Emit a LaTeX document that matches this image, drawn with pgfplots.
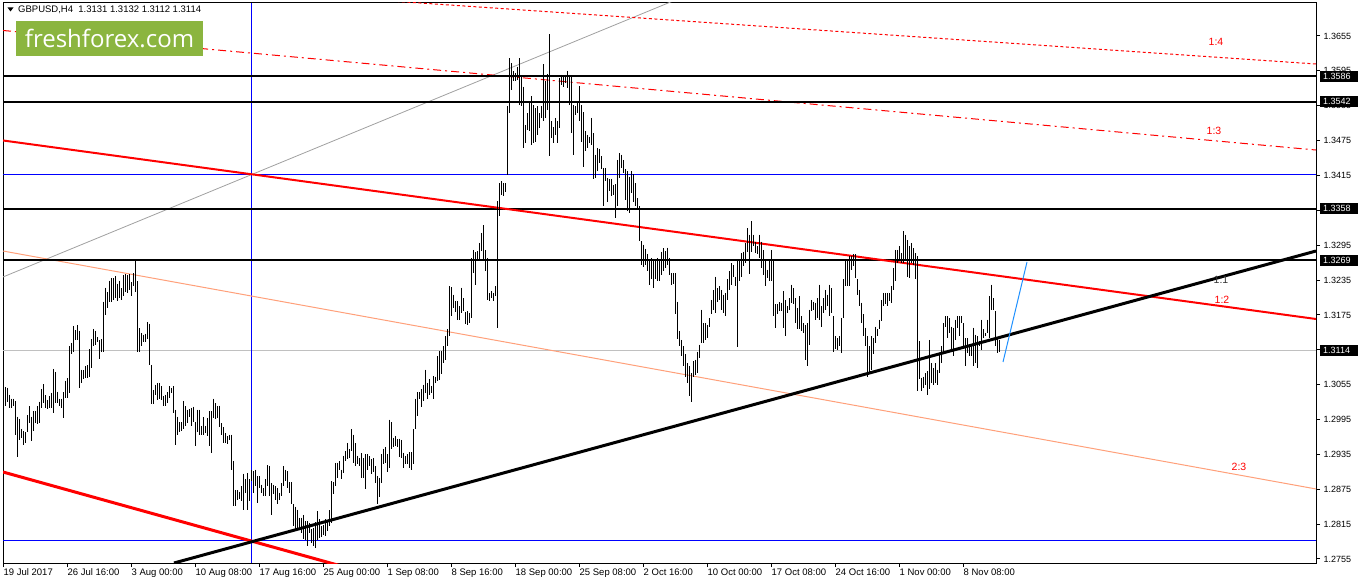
\documentclass[border=0pt]{standalone}
\usepackage{fontspec}
\setmainfont{Liberation Sans}
\newfontfamily\logofont{Open Sans}
\usepackage{pgfplots}
\usepackage{pgfplotstable}
\pgfplotsset{compat=1.18}
\definecolor{mtred}{RGB}{255,0,0}
\definecolor{salmon}{RGB}{255,160,122}
\definecolor{mtgray}{RGB}{160,160,160}
\definecolor{silver}{RGB}{192,192,192}
\definecolor{mtblue}{RGB}{0,0,255}
\definecolor{dodger}{RGB}{30,144,255}
\definecolor{logogreen}{RGB}{139,181,63}

\pgfplotstableread{
x h l
3 1.3046 1.3006
5 1.3051 1.3018
7 1.3050 1.3026
9 1.3038 1.3015
11 1.3031 1.3015
13 1.3031 1.3018
15 1.3027 1.2969
17 1.3000 1.2931
19 1.2996 1.2959
21 1.2979 1.2963
23 1.2975 1.2951
25 1.2973 1.2955
27 1.3002 1.2973
29 1.3018 1.2989
31 1.3000 1.2958
33 1.3009 1.2975
35 1.3010 1.2989
37 1.3018 1.2988
39 1.3026 1.2989
41 1.3047 1.3015
43 1.3056 1.3023
45 1.3037 1.3015
47 1.3029 1.3013
49 1.3035 1.3015
51 1.3041 1.3015
53 1.3082 1.3006
55 1.3077 1.3023
57 1.3043 1.3023
59 1.3031 1.3019
61 1.3031 1.3014
63 1.3042 1.2998
65 1.3062 1.3032
67 1.3066 1.3032
69 1.3121 1.3041
71 1.3127 1.3107
73 1.3156 1.3112
75 1.3149 1.3132
77 1.3158 1.3132
79 1.3148 1.3049
81 1.3081 1.3058
83 1.3080 1.3064
85 1.3087 1.3066
87 1.3088 1.3066
89 1.3116 1.3069
91 1.3133 1.3084
93 1.3151 1.3121
95 1.3148 1.3124
97 1.3137 1.3129
99 1.3132 1.3099
101 1.3133 1.3112
103 1.3198 1.3112
105 1.3222 1.3175
107 1.3214 1.3187
109 1.3234 1.3198
111 1.3238 1.3197
113 1.3238 1.3201
115 1.3242 1.3204
117 1.3229 1.3199
119 1.3234 1.3204
121 1.3221 1.3201
123 1.3244 1.3207
125 1.3245 1.3214
127 1.3244 1.3213
129 1.3245 1.3218
131 1.3231 1.3207
133 1.3247 1.3224
135 1.3267 1.3215
137 1.3233 1.3111
139 1.3152 1.3112
141 1.3144 1.3121
143 1.3141 1.3129
145 1.3143 1.3129
147 1.3163 1.3134
149 1.3160 1.3089
151 1.3089 1.3021
153 1.3046 1.3021
155 1.3055 1.3037
157 1.3058 1.3029
159 1.3058 1.3031
161 1.3052 1.3028
163 1.3035 1.3018
165 1.3038 1.3018
167 1.3042 1.3023
169 1.3052 1.3032
171 1.3049 1.3041
173 1.3052 1.3006
175 1.3012 1.2951
177 1.3000 1.2969
179 1.2990 1.2973
181 1.2990 1.2975
183 1.3027 1.2978
185 1.3018 1.2983
187 1.3012 1.2989
189 1.3013 1.3000
191 1.3015 1.2983
193 1.3017 1.2990
195 1.2990 1.2949
197 1.3012 1.2973
199 1.3012 1.2969
201 1.2984 1.2969
203 1.2999 1.2968
205 1.2984 1.2971
207 1.2998 1.2966
209 1.3009 1.2949
211 1.3009 1.2937
213 1.3031 1.2998
215 1.3023 1.2996
217 1.3018 1.2998
219 1.3019 1.2982
221 1.2989 1.2969
223 1.2982 1.2955
225 1.2972 1.2955
227 1.2966 1.2953
229 1.2969 1.2960
231 1.2969 1.2908
233 1.2923 1.2846
235 1.2874 1.2846
237 1.2873 1.2857
239 1.2871 1.2858
241 1.2880 1.2854
243 1.2902 1.2840
245 1.2892 1.2869
247 1.2903 1.2840
249 1.2892 1.2854
251 1.2908 1.2889
253 1.2906 1.2869
255 1.2909 1.2880
257 1.2897 1.2851
259 1.2897 1.2877
261 1.2883 1.2869
263 1.2877 1.2863
265 1.2892 1.2863
267 1.2916 1.2880
269 1.2915 1.2863
271 1.2886 1.2831
273 1.2883 1.2866
275 1.2880 1.2857
277 1.2877 1.2850
279 1.2869 1.2857
281 1.2885 1.2863
283 1.2915 1.2880
285 1.2909 1.2889
287 1.2906 1.2877
289 1.2887 1.2869
291 1.2887 1.2850
293 1.2850 1.2811
295 1.2845 1.2807
297 1.2840 1.2806
299 1.2826 1.2806
301 1.2826 1.2800
303 1.2831 1.2790
305 1.2820 1.2788
307 1.2820 1.2777
309 1.2817 1.2800
311 1.2806 1.2783
313 1.2809 1.2777
315 1.2818 1.2774
317 1.2837 1.2788
319 1.2823 1.2791
321 1.2811 1.2793
323 1.2813 1.2797
325 1.2823 1.2794
327 1.2820 1.2803
329 1.2839 1.2811
331 1.2889 1.2817
333 1.2887 1.2866
335 1.2920 1.2880
337 1.2921 1.2894
339 1.2923 1.2908
341 1.2909 1.2892
343 1.2933 1.2903
345 1.2941 1.2924
347 1.2955 1.2927
349 1.2944 1.2929
351 1.2978 1.2941
353 1.2969 1.2921
355 1.2954 1.2915
357 1.2933 1.2918
359 1.2929 1.2915
361 1.2937 1.2895
363 1.2929 1.2895
365 1.2935 1.2875
367 1.2935 1.2909
369 1.2932 1.2915
371 1.2927 1.2902
373 1.2929 1.2904
375 1.2915 1.2885
377 1.2898 1.2849
379 1.2895 1.2861
381 1.2935 1.2886
383 1.2945 1.2918
385 1.2948 1.2920
387 1.2935 1.2904
389 1.2995 1.2912
391 1.2990 1.2944
393 1.2964 1.2947
395 1.2967 1.2950
397 1.2961 1.2947
399 1.2962 1.2931
401 1.2960 1.2929
403 1.2938 1.2912
405 1.2933 1.2918
407 1.2935 1.2918
409 1.2939 1.2912
411 1.2939 1.2909
413 1.2979 1.2918
415 1.3031 1.2978
417 1.3042 1.3001
419 1.3042 1.3030
421 1.3047 1.3017
423 1.3055 1.3027
425 1.3081 1.3040
427 1.3058 1.3030
429 1.3064 1.3038
431 1.3053 1.3041
433 1.3070 1.3031
435 1.3069 1.3058
437 1.3104 1.3061
439 1.3113 1.3063
441 1.3113 1.3073
443 1.3121 1.3093
445 1.3139 1.3098
447 1.3150 1.3121
449 1.3224 1.3139
451 1.3223 1.3173
453 1.3210 1.3187
455 1.3199 1.3180
457 1.3199 1.3167
459 1.3190 1.3167
461 1.3222 1.3179
463 1.3204 1.3181
465 1.3180 1.3160
467 1.3181 1.3158
469 1.3179 1.3161
471 1.3273 1.3170
473 1.3287 1.3247
475 1.3283 1.3227
477 1.3285 1.3267
479 1.3299 1.3270
481 1.3316 1.3285
483 1.3329 1.3270
485 1.3287 1.3250
487 1.3273 1.3201
489 1.3212 1.3199
491 1.3216 1.3204
493 1.3213 1.3199
495 1.3224 1.3208
497 1.3371 1.3153
499 1.3402 1.3345
501 1.3405 1.3382
503 1.3402 1.3379
505 1.3402 1.3386
507 1.3534 1.3416
509 1.3617 1.3522
511 1.3608 1.3562
513 1.3594 1.3577
515 1.3591 1.3577
517 1.3602 1.3579
519 1.3617 1.3536
521 1.3585 1.3534
523 1.3568 1.3463
525 1.3502 1.3471
527 1.3522 1.3494
529 1.3539 1.3491
531 1.3551 1.3468
533 1.3536 1.3471
535 1.3531 1.3473
537 1.3534 1.3485
539 1.3522 1.3496
541 1.3534 1.3514
543 1.3606 1.3508
545 1.3577 1.3514
547 1.3589 1.3528
549 1.3658 1.3449
551 1.3508 1.3479
553 1.3498 1.3471
555 1.3514 1.3485
557 1.3508 1.3471
559 1.3582 1.3496
561 1.3588 1.3571
563 1.3585 1.3568
565 1.3588 1.3574
567 1.3595 1.3565
569 1.3588 1.3536
571 1.3585 1.3488
573 1.3536 1.3451
575 1.3534 1.3519
577 1.3543 1.3522
579 1.3569 1.3508
581 1.3536 1.3473
583 1.3524 1.3429
585 1.3491 1.3457
587 1.3485 1.3462
589 1.3482 1.3471
591 1.3514 1.3468
593 1.3488 1.3409
595 1.3451 1.3410
597 1.3462 1.3422
599 1.3461 1.3436
601 1.3448 1.3426
603 1.3428 1.3362
605 1.3428 1.3405
607 1.3410 1.3370
609 1.3409 1.3388
611 1.3409 1.3379
613 1.3398 1.3382
615 1.3400 1.3342
617 1.3442 1.3362
619 1.3453 1.3410
621 1.3451 1.3428
623 1.3442 1.3419
625 1.3426 1.3373
627 1.3422 1.3353
629 1.3413 1.3350
631 1.3423 1.3385
633 1.3417 1.3370
635 1.3402 1.3362
637 1.3376 1.3356
639 1.3362 1.3302
641 1.3302 1.3261
643 1.3296 1.3257
645 1.3289 1.3261
647 1.3280 1.3250
649 1.3270 1.3227
651 1.3273 1.3236
653 1.3268 1.3221
655 1.3267 1.3236
657 1.3273 1.3233
659 1.3267 1.3234
661 1.3284 1.3244
663 1.3290 1.3250
665 1.3285 1.3256
667 1.3291 1.3261
669 1.3273 1.3244
671 1.3247 1.3227
673 1.3247 1.3228
675 1.3247 1.3176
677 1.3198 1.3133
679 1.3147 1.3121
681 1.3132 1.3104
683 1.3121 1.3087
685 1.3107 1.3069
687 1.3092 1.3058
689 1.3087 1.3035
691 1.3075 1.3025
693 1.3095 1.3069
695 1.3098 1.3072
697 1.3112 1.3075
699 1.3124 1.3101
701 1.3184 1.3127
703 1.3161 1.3127
705 1.3161 1.3132
707 1.3158 1.3135
709 1.3170 1.3155
711 1.3201 1.3176
713 1.3218 1.3184
715 1.3241 1.3178
717 1.3221 1.3198
719 1.3224 1.3201
721 1.3218 1.3184
723 1.3210 1.3178
725 1.3213 1.3173
727 1.3236 1.3201
729 1.3250 1.3218
731 1.3264 1.3227
733 1.3261 1.3241
735 1.3241 1.3224
737 1.3270 1.3120
739 1.3270 1.3233
741 1.3281 1.3241
743 1.3284 1.3259
745 1.3299 1.3264
747 1.3324 1.3284
749 1.3313 1.3246
751 1.3336 1.3284
753 1.3313 1.3293
755 1.3301 1.3281
757 1.3293 1.3279
759 1.3313 1.3273
761 1.3301 1.3256
763 1.3287 1.3244
765 1.3270 1.3224
767 1.3253 1.3238
769 1.3270 1.3233
771 1.3287 1.3233
773 1.3270 1.3174
775 1.3193 1.3153
777 1.3193 1.3177
779 1.3197 1.3181
781 1.3196 1.3181
783 1.3216 1.3153
785 1.3201 1.3138
787 1.3190 1.3178
789 1.3204 1.3184
791 1.3227 1.3196
793 1.3221 1.3193
795 1.3204 1.3161
797 1.3187 1.3150
799 1.3207 1.3150
801 1.3173 1.3147
803 1.3161 1.3144
805 1.3158 1.3098
807 1.3161 1.3087
809 1.3184 1.3124
811 1.3201 1.3181
813 1.3198 1.3184
815 1.3196 1.3167
817 1.3204 1.3170
819 1.3227 1.3167
821 1.3190 1.3155
823 1.3204 1.3178
825 1.3218 1.3184
827 1.3210 1.3190
829 1.3227 1.3173
831 1.3221 1.3178
833 1.3173 1.3112
835 1.3138 1.3116
837 1.3135 1.3115
839 1.3138 1.3121
841 1.3170 1.3110
843 1.3236 1.3170
845 1.3270 1.3224
847 1.3267 1.3224
849 1.3276 1.3224
851 1.3276 1.3253
853 1.3279 1.3259
855 1.3279 1.3239
857 1.3236 1.3210
859 1.3218 1.3190
861 1.3196 1.3161
863 1.3176 1.3138
865 1.3153 1.3121
867 1.3138 1.3069
869 1.3121 1.3075
871 1.3138 1.3081
873 1.3135 1.3107
875 1.3155 1.3127
877 1.3150 1.3138
879 1.3167 1.3150
881 1.3201 1.3164
883 1.3213 1.3190
885 1.3213 1.3193
887 1.3213 1.3190
889 1.3213 1.3199
891 1.3224 1.3196
893 1.3256 1.3218
895 1.3287 1.3233
897 1.3287 1.3264
899 1.3293 1.3270
901 1.3281 1.3264
903 1.3319 1.3264
905 1.3313 1.3270
907 1.3304 1.3241
909 1.3293 1.3239
911 1.3299 1.3264
913 1.3290 1.3261
915 1.3281 1.3236
917 1.3276 1.3044
919 1.3130 1.3064
921 1.3067 1.3044
923 1.3069 1.3050
925 1.3075 1.3055
927 1.3078 1.3038
929 1.3132 1.3047
931 1.3092 1.3058
933 1.3084 1.3055
935 1.3092 1.3058
937 1.3081 1.3055
939 1.3110 1.3075
941 1.3121 1.3092
943 1.3161 1.3110
945 1.3173 1.3155
947 1.3173 1.3135
949 1.3170 1.3144
951 1.3155 1.3115
953 1.3153 1.3104
955 1.3167 1.3132
957 1.3173 1.3153
959 1.3173 1.3138
961 1.3173 1.3161
963 1.3161 1.3121
965 1.3135 1.3087
967 1.3135 1.3110
969 1.3121 1.3104
971 1.3121 1.3104
973 1.3153 1.3087
975 1.3141 1.3092
977 1.3138 1.3084
979 1.3130 1.3121
981 1.3167 1.3115
983 1.3150 1.3135
985 1.3144 1.3138
987 1.3167 1.3144
989 1.3207 1.3135
991 1.3227 1.3184
993 1.3204 1.3184
995 1.3181 1.3121
997 1.3135 1.3110
999 1.3132 1.3112
}\bars

\begin{document}
\begin{tikzpicture}
\path[use as bounding box] (0pt,0pt) rectangle (1358pt,584pt);
\begin{axis}[
  at={(3pt,21pt)}, anchor=south west,
  scale only axis, width=1313pt, height=560pt,
  xmin=3, xmax=1316, ymin=1.27481, ymax=1.37118,
  axis line style={black, line width=1pt},
  tick style={black, line width=1pt},
  major tick length=4pt,
  tick align=outside,
  xtick pos=lower, ytick pos=upper,
  xticklabel pos=lower, yticklabel pos=upper,
  xtick={3,67,131,195,259,323,387,451,515,579,643,707,771,835,899,963},
  xticklabels={19 Jul 2017,26 Jul 16:00,3 Aug 00:00,10 Aug 08:00,17 Aug 16:00,25 Aug 00:00,1 Sep 08:00,8 Sep 16:00,18 Sep 00:00,25 Sep 08:00,2 Oct 16:00,10 Oct 00:00,17 Oct 08:00,24 Oct 16:00,1 Nov 00:00,8 Nov 08:00},
  ytick={1.2755,1.2815,1.2875,1.2935,1.2995,1.3055,1.3115,1.3175,1.3235,1.3295,1.3355,1.3415,1.3475,1.3535,1.3595,1.3655},
  scaled y ticks=false,
  yticklabel style={/pgf/number format/.cd, fixed, fixed zerofill, precision=4, assume math mode=true, /tikz/.cd, anchor=west, inner sep=0pt, xshift=3.5pt, font=\fontsize{9}{11}\selectfont},
  xticklabel style={anchor=north west, inner sep=0pt, xshift=0.5pt, yshift=-1.5pt, font=\fontsize{9.5}{11}\selectfont},
  clip=true,
]
% thin reference lines
\addplot[silver, line width=1pt] coordinates {(3,1.3114) (1316,1.3114)};
\addplot[mtblue, line width=1pt] coordinates {(3,1.34167) (1316,1.34167)};
\addplot[mtblue, line width=1pt] coordinates {(3,1.27861) (1316,1.27861)};
\addplot[mtblue, line width=1pt] coordinates {(251,1.27481) (251,1.37118)};
\addplot[mtgray, line width=0.8pt] coordinates {(3,1.32403) (680,1.37202)};
\addplot[salmon, line width=1pt] coordinates {(3,1.32850) (1316,1.28755)};
% fan lines
\addplot[mtred, line width=1pt, dash pattern=on 3pt off 2.5pt] coordinates {(380,1.37165) (1316,1.36068)};
\addplot[mtred, line width=1pt, dash pattern=on 8pt off 4pt on 2pt off 4pt] coordinates {(3,1.36645) (1316,1.34588)};
% horizontal levels
\addplot[black, line width=2pt] coordinates {(3,1.3586) (1316,1.3586)};
\addplot[black, line width=2pt] coordinates {(3,1.3542) (1316,1.3542)};
\addplot[black, line width=2pt] coordinates {(3,1.3358) (1316,1.3358)};
\addplot[black, line width=2pt] coordinates {(3,1.3269) (1316,1.3269)};
% trend lines
\addplot[mtred, line width=2pt] coordinates {(3,1.34752) (1316,1.31680)};
\addplot[mtred, line width=3pt] coordinates {(3,1.29047) (340,1.27435)};
\addplot[black, line width=3pt] coordinates {(174,1.27481) (1316,1.32850)};
\addplot[dodger, line width=1pt] coordinates {(1003,1.30940) (1027,1.32661)};
% price bars
\addplot[draw=none, mark=none, error bars/.cd, y dir=minus, y explicit, error mark=none, error bar style={draw=black, line width=1pt}]
  table[x=x, y=h, y error minus expr={\thisrow{h}-\thisrow{l}}] {\bars};
\coordinate (L1) at (axis cs:1316,1.3586);
\coordinate (L2) at (axis cs:1316,1.3542);
\coordinate (L3) at (axis cs:1316,1.3358);
\coordinate (L4) at (axis cs:1316,1.3269);
\coordinate (L5) at (axis cs:1316,1.3114);
\end{axis}
% price boxes
\foreach \c/\t in {L1/1.3586,L2/1.3542,L3/1.3358,L4/1.3269,L5/1.3114}{
  \node[anchor=west, fill=black, text=white, inner xsep=3pt, inner ysep=0pt, minimum height=11pt, text width=32pt, align=left, font=\fontsize{9}{11}\selectfont] at ([xshift=4pt]\c) {\t};
}
% title
\fill[black] (7.5pt,576.5pt) -- (13.5pt,576.5pt) -- (10.5pt,572.5pt) -- cycle;
\node[anchor=west, inner sep=0pt, font=\fontsize{9.5}{11}\selectfont] at (18pt,574pt) {GBPUSD,H4\ \ 1.3131 1.3132 1.3112 1.3114};
% logo
\fill[logogreen] (16pt,528pt) rectangle (203pt,563pt);
\node[text=white, inner sep=0pt, font=\logofont\fontsize{24}{28}\selectfont] at (109.5pt,546pt) {freshforex.com};
% fan labels
\node[text=mtred, font=\fontsize{10.5}{12}\selectfont] at (1216pt,542pt) {1:4};
\node[text=mtred, font=\fontsize{10.5}{12}\selectfont] at (1214pt,453pt) {1:3};
\node[text=black!80, font=\fontsize{10.5}{12}\selectfont] at (1221pt,304pt) {1:1};
\node[text=mtred, font=\fontsize{10.5}{12}\selectfont] at (1222pt,284pt) {1:2};
\node[text=mtred, font=\fontsize{10.5}{12}\selectfont] at (1239pt,117pt) {2:3};
\end{tikzpicture}
\end{document}
